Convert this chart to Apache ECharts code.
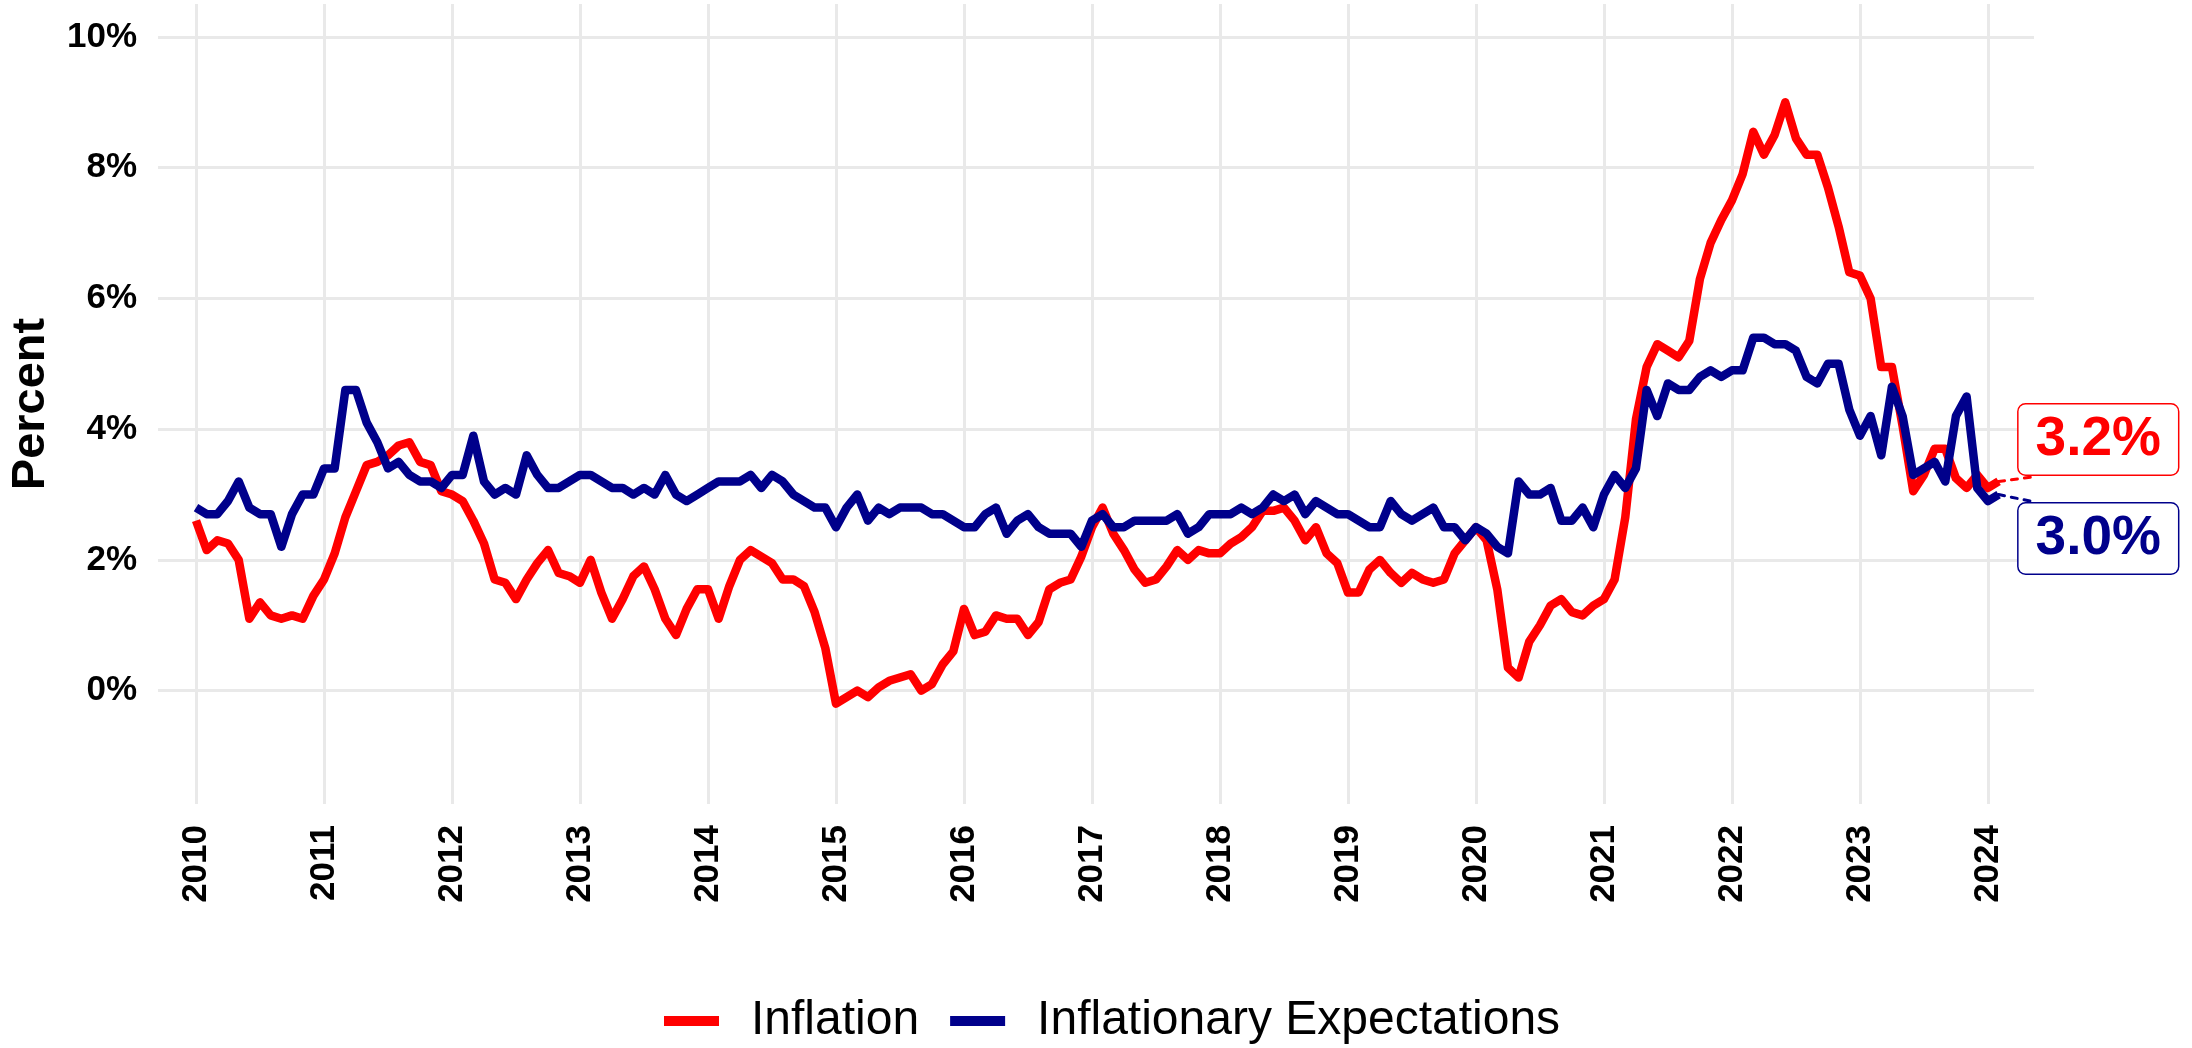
<!DOCTYPE html>
<html>
<head>
<meta charset="utf-8">
<title>Inflation and Inflationary Expectations</title>
<script src="https://cdn.jsdelivr.net/npm/echarts@6/dist/echarts.min.js"></script>
<style>
    html, body { margin: 0; padding: 0; background: #ffffff; }
    #chart { width: 2192px; height: 1048px; }
</style>
</head>
<body>
<div id="chart"></div>
<script>
// Monthly values, Jan 2010 .. Feb 2024 (percent)
var startYear = 2010

var inflation = [
    2.6, 2.15, 2.3, 2.25, 2.0, 1.1, 1.35, 1.15, 1.1, 1.15, 1.1, 1.45,   // 2010
    1.7, 2.1, 2.65, 3.05, 3.45, 3.5, 3.6, 3.75, 3.8, 3.5, 3.45, 3.05,   // 2011
    3.0, 2.9, 2.6, 2.25, 1.7, 1.65, 1.4, 1.7, 1.95, 2.15, 1.8, 1.75,    // 2012
    1.65, 2.0, 1.5, 1.1, 1.4, 1.75, 1.9, 1.55, 1.1, 0.85, 1.25, 1.55,   // 2013
    1.55, 1.1, 1.6, 2.0, 2.15, 2.05, 1.95, 1.7, 1.7, 1.6, 1.2, 0.65,    // 2014
    -0.2, -0.1, 0.0, -0.1, 0.05, 0.15, 0.2, 0.25, 0.0, 0.1, 0.4, 0.6,   // 2015
    1.25, 0.85, 0.9, 1.15, 1.1, 1.1, 0.85, 1.05, 1.55, 1.65, 1.7, 2.05, // 2016
    2.5, 2.8, 2.4, 2.15, 1.85, 1.65, 1.7, 1.9, 2.15, 2.0, 2.15, 2.1,    // 2017
    2.1, 2.25, 2.35, 2.5, 2.75, 2.75, 2.8, 2.6, 2.3, 2.5, 2.1, 1.95,    // 2018
    1.5, 1.5, 1.85, 2.0, 1.8, 1.65, 1.8, 1.7, 1.65, 1.7, 2.1, 2.3,      // 2019
    2.5, 2.3, 1.55, 0.35, 0.2, 0.75, 1.0, 1.3, 1.4, 1.2, 1.15, 1.3,     // 2020
    1.4, 1.7, 2.65, 4.15, 4.95, 5.3, 5.2, 5.1, 5.35, 6.3, 6.85, 7.2,    // 2021
    7.5, 7.9, 8.55, 8.2, 8.5, 9.0, 8.45, 8.2, 8.2, 7.7, 7.1, 6.4,       // 2022
    6.35, 6.0, 4.95, 4.95, 4.05, 3.05, 3.3, 3.7, 3.7, 3.25, 3.1, 3.3,   // 2023
    3.1, 3.2                                                            // 2024
]

var expectations = [
    2.8, 2.7, 2.7, 2.9, 3.2, 2.8, 2.7, 2.7, 2.2, 2.7, 3.0, 3.0,         // 2010
    3.4, 3.4, 4.6, 4.6, 4.1, 3.8, 3.4, 3.5, 3.3, 3.2, 3.2, 3.1,         // 2011
    3.3, 3.3, 3.9, 3.2, 3.0, 3.1, 3.0, 3.6, 3.3, 3.1, 3.1, 3.2,         // 2012
    3.3, 3.3, 3.2, 3.1, 3.1, 3.0, 3.1, 3.0, 3.3, 3.0, 2.9, 3.0,         // 2013
    3.1, 3.2, 3.2, 3.2, 3.3, 3.1, 3.3, 3.2, 3.0, 2.9, 2.8, 2.8,         // 2014
    2.5, 2.8, 3.0, 2.6, 2.8, 2.7, 2.8, 2.8, 2.8, 2.7, 2.7, 2.6,         // 2015
    2.5, 2.5, 2.7, 2.8, 2.4, 2.6, 2.7, 2.5, 2.4, 2.4, 2.4, 2.2,         // 2016
    2.6, 2.7, 2.5, 2.5, 2.6, 2.6, 2.6, 2.6, 2.7, 2.4, 2.5, 2.7,         // 2017
    2.7, 2.7, 2.8, 2.7, 2.8, 3.0, 2.9, 3.0, 2.7, 2.9, 2.8, 2.7,         // 2018
    2.7, 2.6, 2.5, 2.5, 2.9, 2.7, 2.6, 2.7, 2.8, 2.5, 2.5, 2.3,         // 2019
    2.5, 2.4, 2.2, 2.1, 3.2, 3.0, 3.0, 3.1, 2.6, 2.6, 2.8, 2.5,         // 2020
    3.0, 3.3, 3.1, 3.4, 4.6, 4.2, 4.7, 4.6, 4.6, 4.8, 4.9, 4.8,         // 2021
    4.9, 4.9, 5.4, 5.4, 5.3, 5.3, 5.2, 4.8, 4.7, 5.0, 5.0, 4.3,         // 2022
    3.9, 4.2, 3.6, 4.65, 4.2, 3.3, 3.4, 3.5, 3.2, 4.2, 4.5, 3.1,        // 2023
    2.9, 3.0                                                            // 2024
]

var seriesNames = ['Inflation', 'Inflationary Expectations']
var seriesColors = ['#ff0000', '#00008b']
var yTicks = [0, 2, 4, 6, 8, 10]
var xTicks = [2010, 2011, 2012, 2013, 2014, 2015, 2016, 2017, 2018, 2019, 2020, 2021, 2022, 2023, 2024]

var font = 'Liberation Sans, Arial, sans-serif'
var gridColor = '#e9e9e9'

// where the end-of-line labels sit, relative to the last point (px) and
// where their dotted leader lines stop (years, percent) - must stay inside the axis range
var labelOffsets = [[20, -42], [20, 44]]
var leaderEnds = [[0.27, 0.07], [0.27, -0.11]]

function toPoints(values) {
    return values.map(function (v, i) {
        return [startYear + i / 12, v]
    })
}

function makeSeries(name, values, color, pos) {
    var pts = toPoints(values)
    var last = pts[pts.length - 1]
    return {
        name: name,
        type: 'line',
        data: pts,
        showSymbol: false,
        clip: false,
        color: color,
        lineStyle: { width: 8.5, color: color, join: 'round' },
        endLabel: {
            show: true,
            formatter: function (p) { return p.value[1].toFixed(1) + '%' },
            distance: 0,
            offset: labelOffsets[pos],
            color: color,
            fontFamily: font,
            fontWeight: 'bold',
            fontSize: 55,
            lineHeight: 56,
            backgroundColor: '#ffffff',
            borderColor: color,
            borderWidth: 1.5,
            borderRadius: 7,
            padding: [7, 17, 7, 17]
        },
        markLine: {
            silent: true,
            symbol: ['none', 'none'],
            label: { show: false },
            lineStyle: { color: color, width: 3, type: [6, 7], cap: 'round' },
            data: [[
                { coord: [last[0], last[1]] },
                { coord: [last[0] + leaderEnds[pos][0], last[1] + leaderEnds[pos][1]] }
            ]]
        }
    }
}

var chart = echarts.init(document.getElementById('chart'))

var option = {
    animation: false,
    backgroundColor: '#ffffff',
    textStyle: { fontFamily: font },
    grid: {
        left: 158,
        right: 158,
        top: 4,
        bottom: 244,
        containLabel: false,
        outerBoundsMode: 'none'
    },
    legend: {
        data: seriesNames,
        left: 664,
        top: 997,
        padding: 0,
        icon: 'rect',
        itemWidth: 55,
        itemHeight: 10,
        itemGap: 31,
        textStyle: {
            fontFamily: font,
            fontSize: 48,
            lineHeight: 48,
            color: '#000000',
            padding: [0, 0, 0, 27]
        }
    },
    xAxis: {
        type: 'value',
        min: 2009.703,
        max: 2024.36,
        axisLine: { show: false },
        axisTick: { show: false, customValues: xTicks },
        axisLabel: {
            customValues: xTicks,
            rotate: 90,
            margin: 21,
            fontFamily: font,
            fontWeight: 'bold',
            fontSize: 35,
            color: '#000000',
            formatter: function (v) { return String(v) }
        },
        splitLine: { show: true, lineStyle: { color: gridColor, width: 3 } }
    },
    yAxis: {
        type: 'value',
        min: -1.735,
        max: 10.505,
        axisLine: { show: false },
        axisTick: { show: false, customValues: yTicks },
        axisLabel: {
            customValues: yTicks,
            margin: 21,
            fontFamily: font,
            fontWeight: 'bold',
            fontSize: 35,
            color: '#000000',
            formatter: function (v) { return v + '%' }
        },
        splitLine: { show: true, lineStyle: { color: gridColor, width: 3 } }
    },
    graphic: [{
        type: 'text',
        x: 31,
        y: 404,
        rotation: Math.PI / 2,
        style: {
            text: 'Percent',
            fontFamily: font,
            fontWeight: 'bold',
            fontSize: 47,
            fill: '#000000',
            textAlign: 'center',
            textVerticalAlign: 'middle'
        }
    }],
    series: [
        makeSeries(seriesNames[0], inflation, seriesColors[0], 0),
        makeSeries(seriesNames[1], expectations, seriesColors[1], 1)
    ]
}

chart.setOption(option)
</script>
</body>
</html>
